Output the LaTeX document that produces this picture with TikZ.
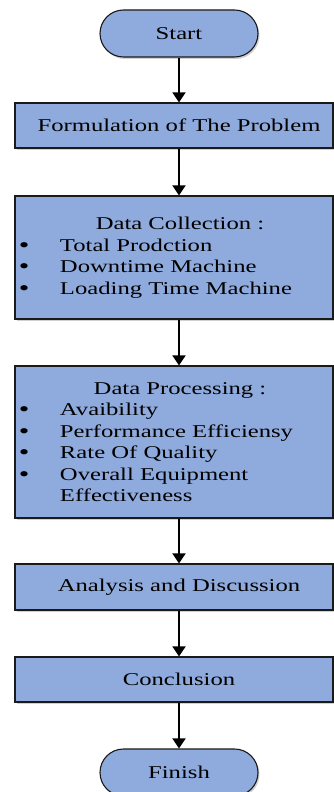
\documentclass[tikz,border=0pt]{standalone}
\usepackage{fontspec}
\setmainfont{Liberation Serif}[FakeStretch=1.37]
\usetikzlibrary{shapes.misc,arrows.meta,shadows}
\definecolor{boxfill}{HTML}{8FAADC}
\definecolor{boxline}{HTML}{1A1A1A}
\newcommand{\bitem}[1]{\makebox[41pt][l]{\smash{\raisebox{-1pt}{\fontsize{22}{0}\selectfont\textbullet}}}#1\par}
\begin{document}
\begin{tikzpicture}[x=1pt,y=1pt,
  every node/.style={font=\fontsize{18}{21.5}\selectfont},
  base/.style={draw=boxline, line width=1.1pt, fill=boxfill, inner sep=0pt,
    drop shadow={shadow xshift=1.5pt, shadow yshift=-2pt, fill=black!30, opacity=0.6}},
  terminal/.style={base, rounded rectangle, minimum width=158pt, minimum height=47pt},
  stepbox/.style={base, rectangle, minimum width=318pt},
  flow/.style={line width=1.6pt, -{Triangle[width=13pt,length=10pt]}}
]
\useasboundingbox (0,0) rectangle (334,-792);
\clip (0,0) rectangle (334,-792);
\node[terminal] (start) at (179,-33.5) {Start};
\node[stepbox, minimum height=45pt] (form) at (174,-125.5) {\hspace*{10pt}Formulation of The Problem};
\node[stepbox, minimum height=123pt] (dc) at (174,-257.5) {\parbox{310pt}{%
  \makebox[310pt]{\hspace*{12pt}Data Collection :}\par
  \bitem{Total Prodction}\bitem{Downtime Machine}\bitem{Loading Time Machine}}};
\node[stepbox, minimum height=152pt] (dp) at (174,-442) {\parbox{310pt}{%
  \makebox[310pt]{\hspace*{12pt}Data Processing :}\par
  \bitem{Avaibility}\bitem{Performance Efficiensy}\bitem{Rate Of Quality}\bitem{Overall Equipment}
  \hspace*{41pt}Effectiveness}};
\node[stepbox, minimum height=46pt] (an) at (174,-587) {\hspace*{10pt}Analysis and Discussion};
\node[stepbox, minimum height=45pt] (co) at (174,-679.5) {\hspace*{10pt}Conclusion};
\node[terminal] (fin) at (179,-772.5) {Finish};
\draw[flow] (start.south) -- (start.south |- form.north);
\draw[flow] (start.south |- form.south) -- (start.south |- dc.north);
\draw[flow] (start.south |- dc.south) -- (start.south |- dp.north);
\draw[flow] (start.south |- dp.south) -- (start.south |- an.north);
\draw[flow] (start.south |- an.south) -- (start.south |- co.north);
\draw[flow] (start.south |- co.south) -- (fin.north);
\end{tikzpicture}
\end{document}
